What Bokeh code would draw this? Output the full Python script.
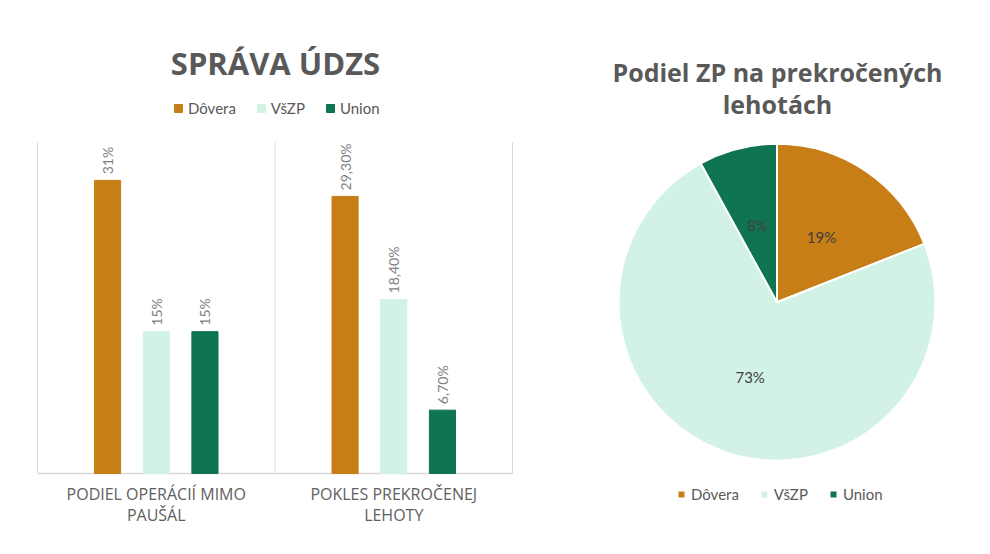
import math
from bokeh.plotting import figure
from bokeh.models import Range1d, ColumnDataSource, Label, Legend, LegendItem
from bokeh.transform import dodge
from bokeh.layouts import row
from bokeh.embed import file_html
from bokeh.resources import INLINE
from bokeh.core.properties import value

# ---------------- data ----------------
category_lines = [["PODIEL OPERÁCIÍ MIMO", "PAUŠÁL"],
                  ["POKLES PREKROČENEJ", "LEHOTY"]]
series = ["Dôvera", "VšZP", "Union"]
dovera = [0.31, 0.293]
vszp = [0.15, 0.184]
union = [0.15, 0.067]
label_decimals = [0, 2]
colors = ["#C77E17", "#D2F2E6", "#0E7451"]
y_max = 0.35

pie_names = ["Dôvera", "VšZP", "Union"]
pie_values = [19, 73, 8]

bar_title = "SPRÁVA ÚDZS"
pie_title = "Podiel ZP na prekročených\nlehotách"

FONT = "Lato"
TFONT = "Open Sans"
GREY = "#595959"
LINE = "#d9d9d9"

# ---------------- bar chart (frame = whole figure) ----------------
W1, H1 = 550, 554
left_px, right_px, top_px, base_px = 37, 512, 142, 473
n = len(category_lines)
ux = (right_px - left_px) / n            # px per category
uy = (base_px - top_px) / y_max          # px per unit value

xc = [i + 0.5 for i in range(n)]
src = ColumnDataSource(dict(xc=xc, s0=dovera, s1=vszp, s2=union,
                            cat=["\n".join(l) for l in category_lines]))
for j, vals in enumerate([dovera, vszp, union]):
    src.data[f"l{j}"] = [
        (f"{v * 100:.{d}f}%").replace(".", ",") for v, d in zip(vals, label_decimals)
    ]

p = figure(width=W1, height=H1,
           x_range=Range1d(-left_px / ux, n + (W1 - right_px) / ux),
           y_range=Range1d(-(H1 - base_px) / uy, y_max + top_px / uy),
           output_backend="svg", toolbar_location=None,
           x_axis_location=None, y_axis_location=None,
           min_border=0, outline_line_color=None)
p.xgrid.visible = False
p.ygrid.visible = False

# category separators and baseline
seps = list(range(n + 1))
p.segment(x0=seps, y0=[0] * (n + 1), x1=seps, y1=[y_max] * (n + 1),
          line_color=LINE, line_width=1)
p.segment(x0=[0], y0=[0], x1=[n], y1=[0], line_color=LINE, line_width=1.5)

offsets = [-0.205, 0.0, 0.205]
renderers = []
for j in range(3):
    r = p.vbar(x=dodge("xc", offsets[j]), top=f"s{j}", bottom=0,
               width=0.11, source=src, fill_color=colors[j],
               line_color=colors[j])
    renderers.append(r)
    p.text(x=dodge("xc", offsets[j]), y=f"s{j}",
           text=f"l{j}", source=src, angle=math.pi / 2,
           text_align="left", text_baseline="middle", y_offset=-6,
           text_color="#7f7f7f", text_font=value(FONT),
           text_font_size="14px")

# category labels
p.text(x="xc", y=0, text="cat", source=src, text_align="center",
       text_baseline="top", y_offset=9, text_color="#606060",
       text_font=value(TFONT), text_font_size="16px",
       text_line_height=0.98)

leg = Legend(items=[LegendItem(label=s, renderers=[r])
                    for s, r in zip(series, renderers)],
             orientation="horizontal", location=(173, H1 - 118),
             glyph_width=10, glyph_height=10, label_height=20,
             label_text_font_size="15px", label_text_color=GREY,
             label_text_font=FONT, border_line_color=None,
             background_fill_alpha=0, padding=0, margin=0,
             spacing=20, label_standoff=5)
p.add_layout(leg)

p.add_layout(Label(x=275, y=H1 - 62, x_units="screen", y_units="screen",
                   text=bar_title, text_align="center",
                   text_baseline="middle", text_font=TFONT,
                   text_font_style="bold", text_font_size="31px",
                   text_color=GREY))

# ---------------- pie chart (frame = whole figure) ----------------
W2, H2 = 440, 554
cx, cy, R = 226.5, H2 - 301.7, 158.5
total = sum(pie_values)
starts, ends, lx, ly, ltxt = [], [], [], [], []
cum = 0
for v in pie_values:
    a0 = math.pi / 2 - 2 * math.pi * cum / total
    a1 = math.pi / 2 - 2 * math.pi * (cum + v) / total
    starts.append(a0)
    ends.append(a1)
    mid = (a0 + a1) / 2
    lx.append(cx + 0.5 * R * math.cos(mid))
    ly.append(cy + 0.5 * R * math.sin(mid))
    ltxt.append(f"{v}%")
    cum += v

src2 = ColumnDataSource(dict(name=pie_names, val=pie_values, start=starts,
                             end=ends, color=colors, lx=lx, ly=ly, lt=ltxt))

p2 = figure(width=W2, height=H2, x_range=Range1d(0, W2),
            y_range=Range1d(0, H2), output_backend="svg",
            toolbar_location=None, x_axis_location=None,
            y_axis_location=None, min_border=0, outline_line_color=None)
p2.xgrid.visible = False
p2.ygrid.visible = False

p2.wedge(x=cx, y=cy, radius=R, start_angle="start", end_angle="end",
         direction="clock", fill_color="color", line_color="white",
         line_width=2, source=src2, legend_field="name")
p2.text(x="lx", y="ly", text="lt", source=src2, text_align="center",
        text_baseline="middle", text_color="#404040",
        text_font=value(FONT), text_font_size="15px")

lg2 = p2.legend[0]
lg2.orientation = "horizontal"
lg2.location = (126, H2 - 504)
lg2.glyph_width = 10
lg2.glyph_height = 10
lg2.label_height = 20
lg2.label_text_font_size = "15px"
lg2.label_text_color = GREY
lg2.label_text_font = FONT
lg2.border_line_color = None
lg2.background_fill_alpha = 0
lg2.padding = 0
lg2.margin = 0
lg2.spacing = 20
lg2.label_standoff = 5

p2.add_layout(Label(x=227, y=H2 - 87.5, x_units="screen", y_units="screen",
                    text=pie_title, text_align="center",
                    text_baseline="middle", text_font=TFONT,
                    text_font_style="bold", text_font_size="25px",
                    text_line_height=0.95, text_color=GREY))

layout = row(p, p2)
open("out.html", "w").write(file_html(layout, INLINE))
